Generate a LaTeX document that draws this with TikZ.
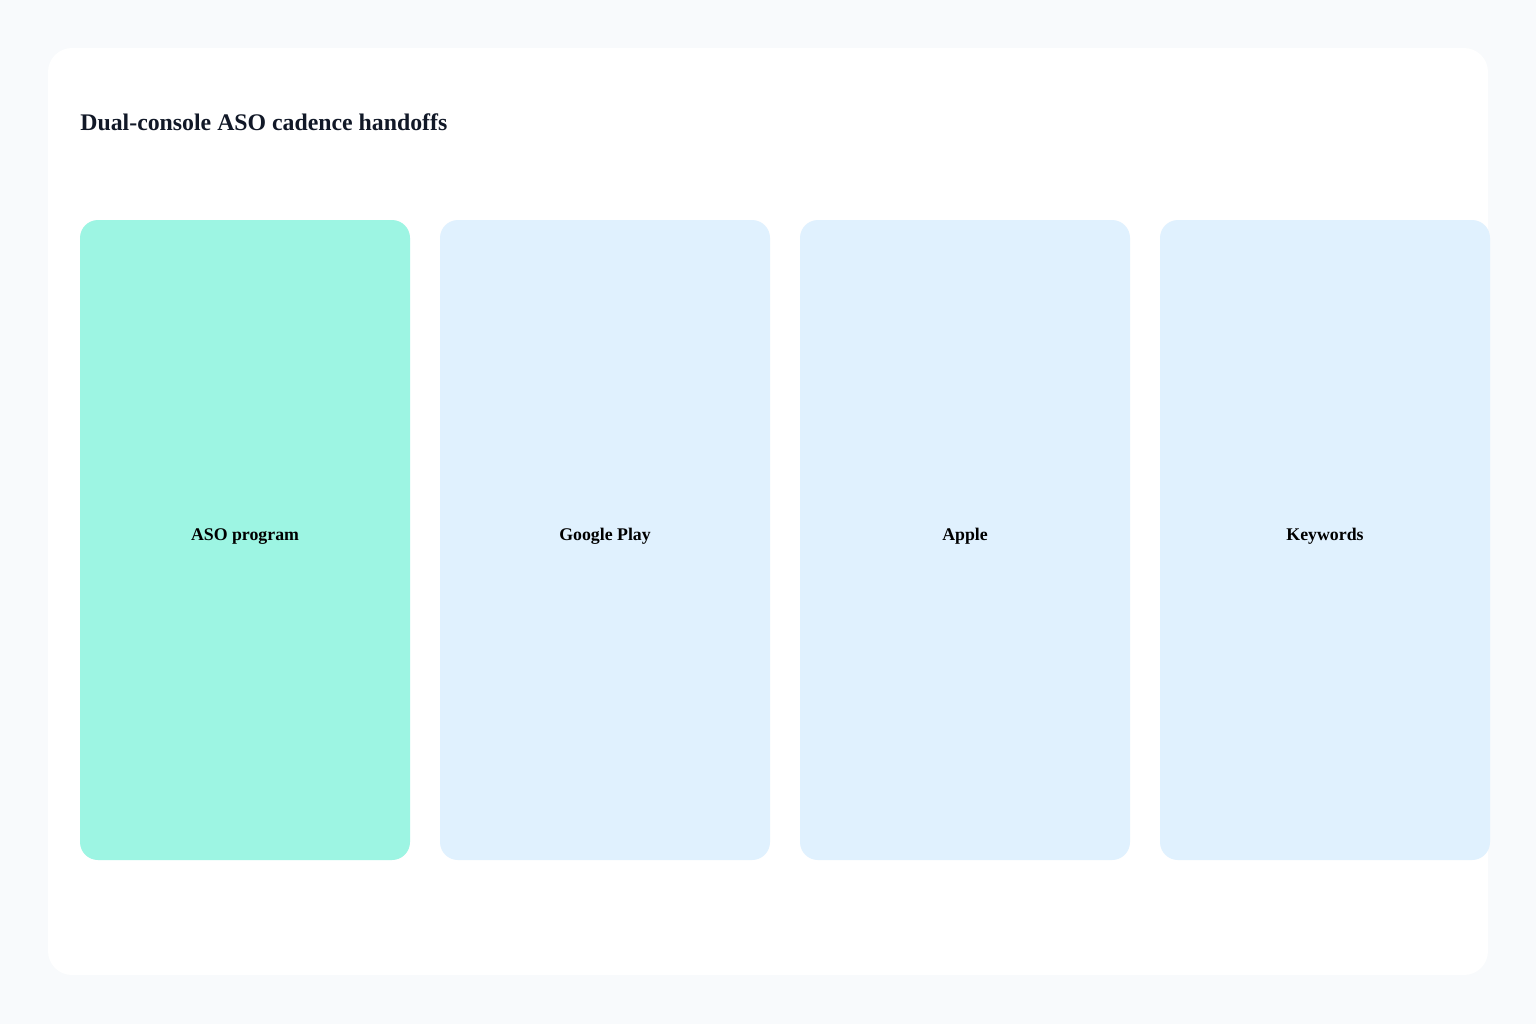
\documentclass[tikz,border=0pt]{standalone}
\usepackage{fontspec}
\setmainfont{Liberation Serif}
\definecolor{pagebg}{HTML}{F8FAFC}
\definecolor{titlecol}{HTML}{111827}
\definecolor{lanemint}{HTML}{9DF5E3}
\definecolor{lanesky}{HTML}{E0F1FE}
\begin{document}
\begin{tikzpicture}[x=0.5pt,y=-0.5pt,
    lane/.style = {rounded corners=9pt, minimum width=165pt, minimum height=320pt,
                   inner sep=0pt, text height=5pt, text depth=5pt,
                   font=\fontsize{8.9pt}{10pt}\selectfont\bfseries, text=black},
    mint/.style = {lane, fill=lanemint},
    sky/.style = {lane, fill=lanesky}]
        \fill[pagebg] (0,0) rectangle (1536,1024);
        \useasboundingbox (0,0) rectangle (1536,1024);
        \fill[white, rounded corners=12pt] (48,48) rectangle (1488,975);
        %
        \node[anchor=base west, inner sep=0pt, font=\fontsize{11.9pt}{14pt}\selectfont\bfseries, text=titlecol]
            (title) at (80,130) {Dual-console ASO cadence handoffs};
        %
        \node[mint] (program) at (245,540) {ASO program};
        \node[sky] (play) at (605,540) {Google Play};
        \node[sky] (apple) at (965,540) {Apple};
        \node[sky] (keywords) at (1325,540) {Keywords};
      \end{tikzpicture}
\end{document}
